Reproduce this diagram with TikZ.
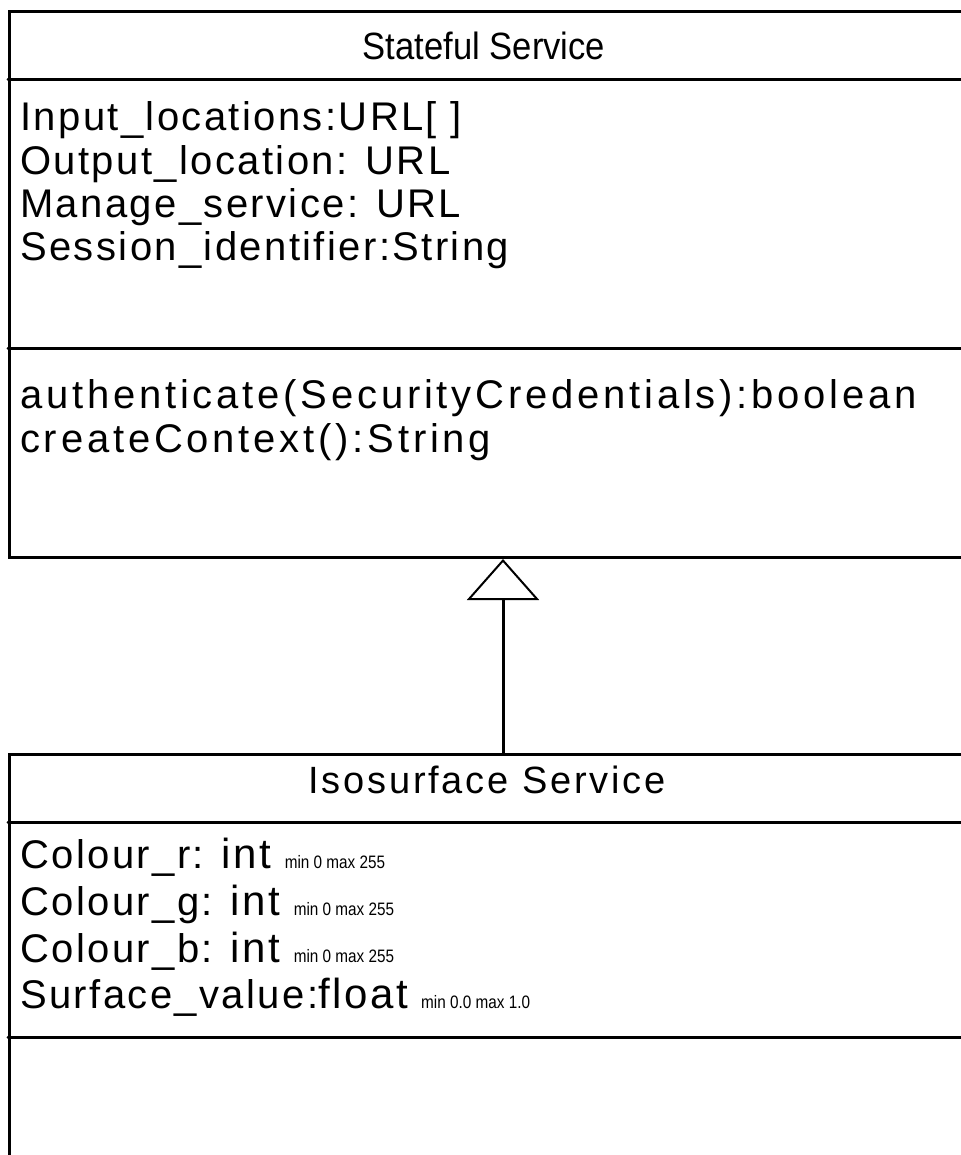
\documentclass[tikz,border=0pt]{standalone}
\usepackage{fontspec}
\setmainfont{Liberation Sans}
\newfontfamily\namefont[FakeStretch=0.91]{Liberation Sans}
\newfontfamily\widenamefont[LetterSpace=7.4]{Liberation Sans}
\newfontfamily\attrfont[LetterSpace=6]{Liberation Sans}
\newfontfamily\opfont[LetterSpace=9.5]{Liberation Sans}
\newfontfamily\notefont[FakeStretch=0.85]{Liberation Sans}
\usetikzlibrary{arrows.meta,positioning}
\tikzset{>=Stealth,
  classbox/.style={draw, line width=3pt, anchor=north west, minimum width=990pt, inner sep=0pt},
  sepline/.style={line width=3pt},
  classname/.style={anchor=base, inner sep=0pt, font=\namefont\fontsize{38}{44}\selectfont},
  attrline/.style={anchor=base west, inner sep=0pt, font=\attrfont\fontsize{40}{46}\selectfont},
  opline/.style={anchor=base west, inner sep=0pt, font=\opfont\fontsize{40}{46}\selectfont},
  inherits/.style={line width=3pt, -{Triangle[open, length=41pt, width=72pt, line width=2pt]}}}
\newcommand{\rangenote}[1]{{\notefont\fontsize{18}{20}\selectfont #1}}
\newcommand{\typename}[1]{{\fontsize{42}{46}\selectfont #1}}

\begin{document}
\begin{tikzpicture}[x=1pt,y=-1pt,line cap=round]
  \useasboundingbox (0,0) rectangle (960,1155);

  % Stateful Service class
  \node [classbox, minimum height=546pt] (stateful) at (8,10) {};
  \draw [sepline] (8,80) -- (998,80);
  \draw [sepline] (8,348) -- (998,348);

  \node [classname] (statefulname) at (484,60) {Stateful Service};

  \node [attrline] (inputs) at (20,131) {Input\_locations:URL[ ]};
  \node [attrline] (output) at (20,175) {Output\_location: URL};
  \node [attrline] (manage) at (20,218) {Manage\_service: URL};
  \node [attrline] (session) at (20,261) {Session\_identifier:String};

  \node [opline] (auth) at (20,408) {authenticate(SecurityCredentials):boolean};
  \node [opline] (context) at (20,452) {createContext():String};

  % Isosurface Service class
  \node [classbox, minimum height=500pt] (iso) at (8,753) {};
  \draw [sepline] (8,822) -- (998,822);
  \draw [sepline] (8,1037) -- (998,1037);

  \node [classname, font=\widenamefont\fontsize{38}{44}\selectfont] (isoname) at (487,793) {Isosurface Service};

  \node [attrline] (red) at (20,868) {Colour\_r: \typename{int} \rangenote{min 0 max 255}};
  \node [attrline] (green) at (20,915) {Colour\_g: \typename{int} \rangenote{min 0 max 255}};
  \node [attrline] (blue) at (20,962) {Colour\_b: \typename{int} \rangenote{min 0 max 255}};
  \node [attrline] (surface) at (20,1008) {Surface\_value:\typename{float} \rangenote{min 0.0 max 1.0}};

  % generalisation
  \coordinate (gen) at (503,753);
  \draw [inherits] (gen) -- (gen |- stateful.south);

\end{tikzpicture}
\end{document}
